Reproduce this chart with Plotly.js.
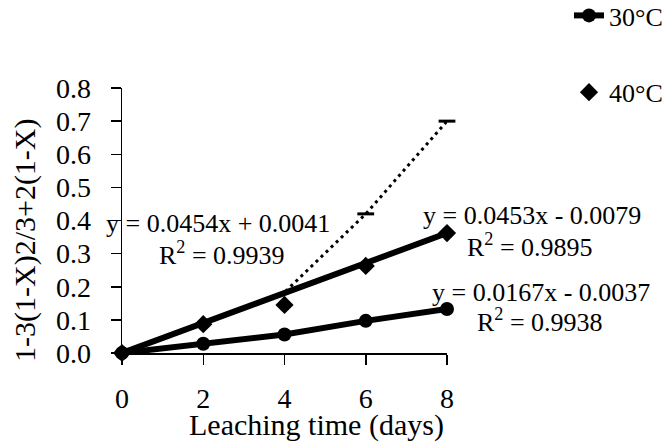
<!DOCTYPE html>
<html>
<head>
<meta charset="utf-8">
<script src="https://cdn.plot.ly/plotly-3.0.1.min.js"></script>
<style>html,body{margin:0;padding:0;background:#fff;}#chart{width:666px;height:441px;}</style>
</head>
<body>
<div id="chart"></div>
<script>
// ---- data ----
const days = [0, 2, 4, 6, 8];
const y30 = [0, 0.028, 0.056, 0.097, 0.133];
const y40 = [0, 0.087, 0.145, 0.263, 0.362];
const trend40X = [0, 8];
const trend40Y = [0, 0.362];
const y50 = [0, 0.088, 0.183, 0.42, 0.70];
const y50Markers = [null, null, null, 0.42, 0.70];
const seriesNames = ["30°C", "40°C"];
const yTickVals = [0, 0.1, 0.2, 0.3, 0.4, 0.5, 0.6, 0.7, 0.8];
const xTickVals = [0, 2, 4, 6, 8];
const eqTexts = [
  "y = 0.0454x + 0.0041", "R<sup>2</sup> = 0.9939",
  "y = 0.0453x - 0.0079", "R<sup>2</sup> = 0.9895",
  "y = 0.0167x - 0.0037", "R<sup>2</sup> = 0.9938"
];
const xTitle = "Leaching time (days)";
const yTitle = "1-3(1-X)2/3+2(1-X)";

const FONT = '"Liberation Serif", "Times New Roman", serif';
const L = 122, R = 219, T = 88, B = 88;
const PW = 666 - L - R, PH = 441 - T - B;
const px = v => (v - L) / PW;          // pixel -> paper x
const py = v => (441 - B - v) / PH;    // pixel -> paper y

const traces = [
  // dotted series
  {x: days, y: y50, mode: "lines", line: {color: "#000", width: 3, dash: "3px,4px"},
   showlegend: false, hoverinfo: "skip", cliponaxis: false},
  {x: days, y: y50Markers, mode: "markers",
   marker: {symbol: "line-ew", size: 12, line: {color: "#000", width: 3}},
   showlegend: false, cliponaxis: false},
  // 40 trend line
  {x: trend40X, y: trend40Y, mode: "lines", line: {color: "#000", width: 6},
   showlegend: false, cliponaxis: false},
  // 30 C
  {x: days, y: y30, mode: "lines+markers", name: seriesNames[0], legendgroup: "a",
   line: {color: "#000", width: 6}, marker: {symbol: "circle", size: 14, color: "#000"},
   cliponaxis: false},
  // 40 C
  {x: days, y: y40, mode: "markers", name: seriesNames[1], legendgroup: "b",
   marker: {symbol: "diamond", size: 14, color: "#000"}, cliponaxis: false}
];

const eqPos = [
  [218, 223], [222, 253],
  [532, 215], [530, 245],
  [541, 292], [540, 320]
];
const annotations = eqTexts.map((t, i) => ({
  text: t, x: px(eqPos[i][0]), y: py(eqPos[i][1]), xref: "paper", yref: "paper",
  showarrow: false, xanchor: "center", yanchor: "middle",
  font: {family: FONT, size: 26, color: "#000"}
}));
annotations.push({
  text: xTitle, xref: "paper", yref: "paper", x: px(316), y: py(425),
  showarrow: false, xanchor: "center", yanchor: "middle",
  font: {family: FONT, size: 30, color: "#000"}
});
annotations.push({
  text: yTitle, xref: "paper", yref: "paper", x: px(25), y: py(240), textangle: -90,
  showarrow: false, xanchor: "center", yanchor: "middle",
  font: {family: FONT, size: 30, color: "#000"}
});

const layout = {
  width: 666, height: 441,
  margin: {l: L, r: R, t: T, b: B, autoexpand: false},
  paper_bgcolor: "#fff", plot_bgcolor: "#fff",
  font: {family: FONT, color: "#000"},
  xaxis: {range: [0, 8], tickvals: xTickVals, ticks: "outside", ticklen: 10, tickwidth: 1.5,
          tickcolor: "#000", showline: true, linecolor: "#000", linewidth: 1.5,
          showgrid: false, zeroline: false, fixedrange: true, automargin: false,
          tickfont: {family: FONT, size: 28, color: "#000"}, ticklabelstandoff: 10},
  yaxis: {range: [0, 0.8], tickvals: yTickVals, tickformat: ".1f", ticks: "outside", ticklen: 10,
          tickwidth: 1.5, tickcolor: "#000", showline: true, linecolor: "#000", linewidth: 1.5,
          showgrid: false, zeroline: false, fixedrange: true, automargin: false,
          tickfont: {family: FONT, size: 28, color: "#000"}, ticklabelstandoff: 14},
  legend: {x: px(569), y: py(-8), xanchor: "left", yanchor: "top", bgcolor: "rgba(0,0,0,0)",
           font: {family: FONT, size: 26, color: "#000"}, tracegroupgap: 40,
           traceorder: "grouped"},
  annotations: annotations,
  showlegend: true
};

Plotly.newPlot("chart", traces, layout, {displayModeBar: false, staticPlot: true});
</script>
</body>
</html>
